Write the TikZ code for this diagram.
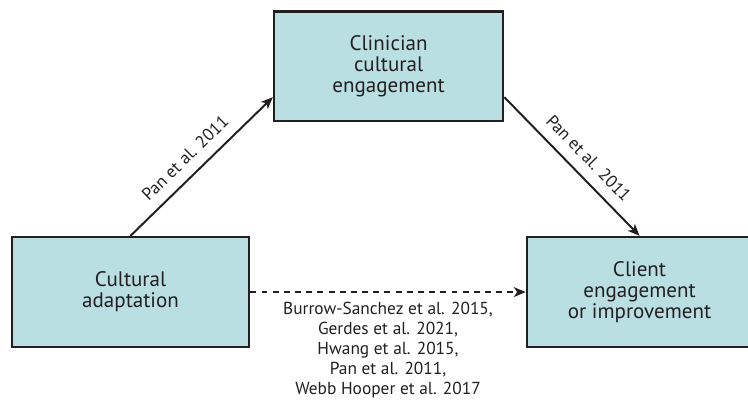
\documentclass[tikz,border=0pt]{standalone}
\usepackage{fontspec}
\setmainfont{PT Sans}
\usetikzlibrary{arrows.meta}

\definecolor{boxfill}{HTML}{BADFE2}
\definecolor{ink}{HTML}{231F20}

\tikzset{
  box/.style={draw=ink, line width=2pt, fill=boxfill, rectangle,
    minimum height=2.94cm, align=center, text=ink,
    font=\fontsize{16}{16}\selectfont},
  link/.style={draw=ink, line width=1.5pt,
    -{Stealth[length=9pt, width=7.5pt, inset=2.5pt]}},
  ref/.style={text=ink, inner sep=0pt, font=\fontsize{13.2}{15.2}\selectfont}
}

\begin{document}
\begin{tikzpicture}
    \useasboundingbox (0,0) rectangle (20,10.75);
    \clip (0,0) rectangle (20,10.75);

    % Boxes
    \node[box, minimum width=6.12cm] (clinician) at (10.39,8.98) {Clinician\\cultural\\engagement};
    \node[box, minimum width=6.34cm] (adapt) at (3.49,2.94) {Cultural\\adaptation};
    \node[box, minimum width=6.02cm] (client) at (17.10,2.94) {Client\\engagement\\or improvement};

    % Mediated path
    \draw[link] (adapt.north) -- (clinician.195)
        node[ref, pos=0.47, sloped, above=8pt] {Pan et al. 2011};
    \draw[link] (clinician.345) -- (client.north)
        node[ref, pos=0.53, sloped, above=8pt] {Pan et al. 2011};

    % Direct path
    \draw[link, dash pattern=on 4.5pt off 4pt] (adapt.east) -- (client.west)
        node[ref, midway, below=7pt, align=center] {Burrow-Sanchez et al. 2015,\\Gerdes et al. 2021,\\Hwang et al. 2015,\\Pan et al. 2011,\\Webb Hooper et al. 2017};
\end{tikzpicture}
\end{document}
